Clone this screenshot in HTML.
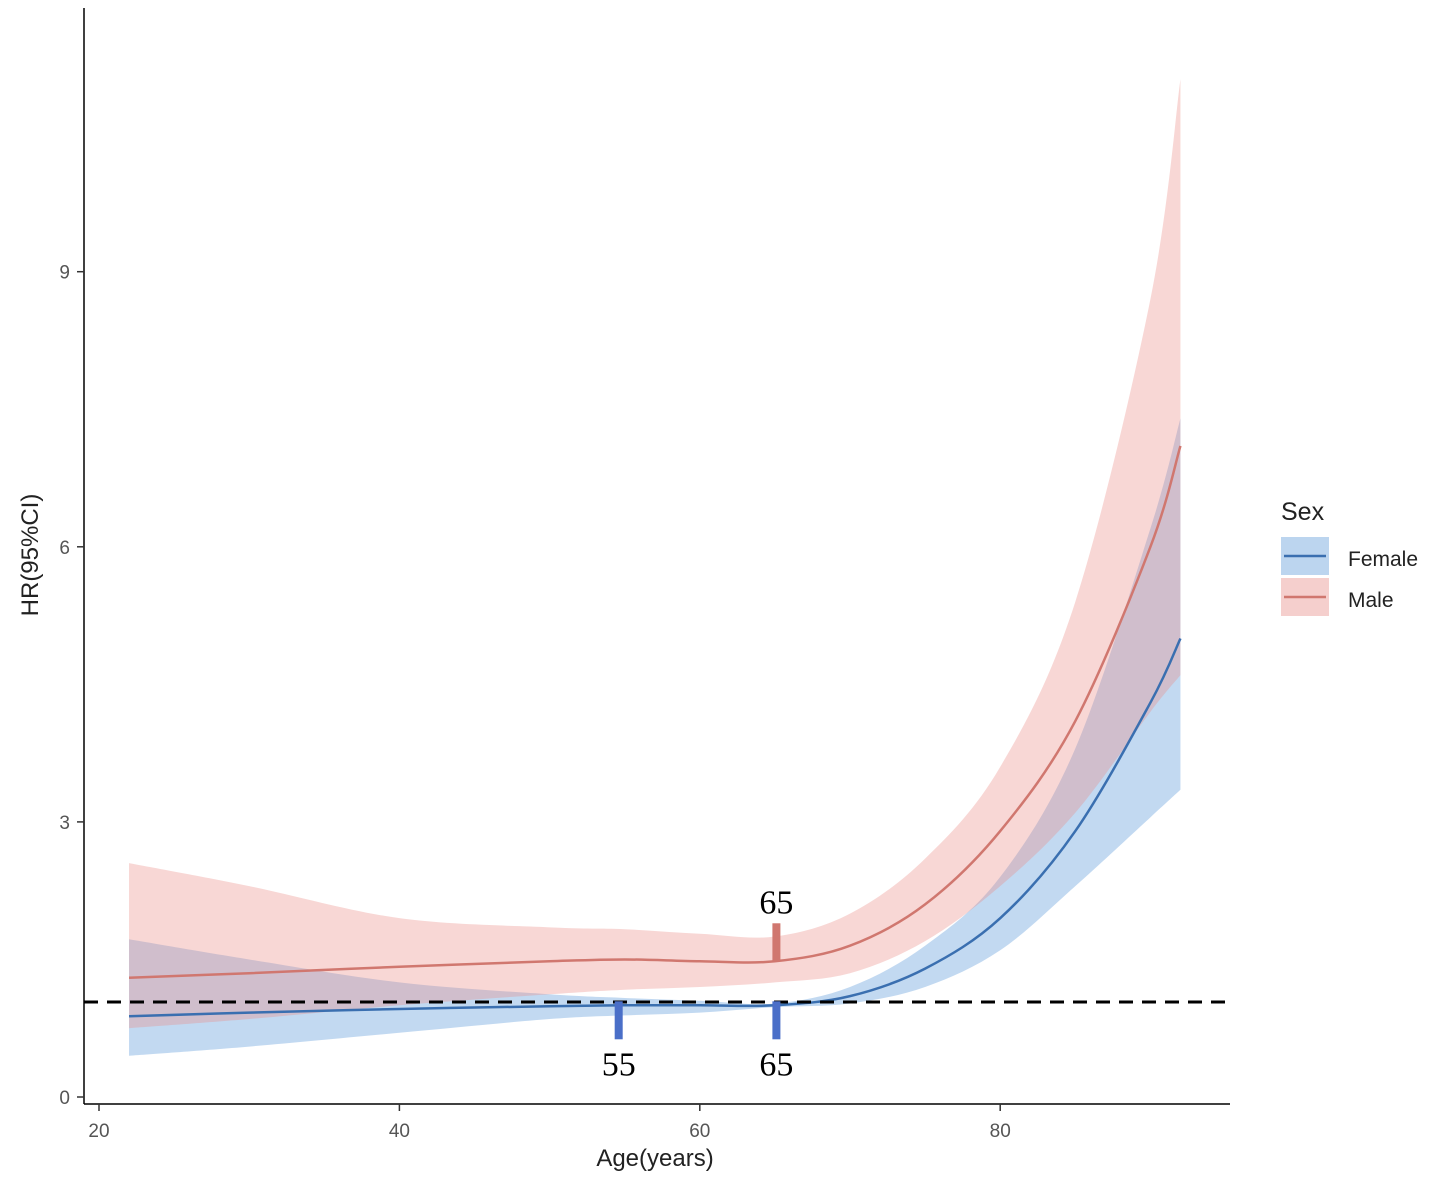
<!DOCTYPE html>
<html><head><meta charset="utf-8"><style>
body{margin:0;background:#fff}
svg{display:block;font-family:"Liberation Sans",sans-serif}
</style></head><body>
<svg id="chart" width="1446" height="1181" viewBox="0 0 1446 1181">
<g id="bands"></g><g id="lines"></g>
<line x1="84" x2="1230" y1="1002" y2="1002" stroke="#000" stroke-width="3" stroke-dasharray="14,9"/>
<g id="annot"></g>
<line x1="84" y1="8" x2="84" y2="1104" stroke="#000" stroke-width="1.5"/>
<line x1="84" y1="1104" x2="1230" y2="1104" stroke="#000" stroke-width="1.5"/>
<g id="axes"></g>
<text x="655" y="1166" font-size="24" text-anchor="middle" fill="#222">Age(years)</text>
<text transform="translate(38,555) rotate(-90)" font-size="24" text-anchor="middle" fill="#222">HR(95%CI)</text>
<g>
<text x="1281" y="520" font-size="25" fill="#222">Sex</text>
<rect x="1281" y="537" width="48" height="38" fill="#bcd5ef"/>
<line x1="1284" x2="1326" y1="556" y2="556" stroke="#3a6fb0" stroke-width="2.5"/>
<text x="1348" y="566" font-size="21" fill="#222">Female</text>
<rect x="1281" y="578" width="48" height="38" fill="#f5cfcd"/>
<line x1="1284" x2="1326" y1="597" y2="597" stroke="#d0776f" stroke-width="2.5"/>
<text x="1348" y="607" font-size="21" fill="#222">Male</text>
</g>
</svg>
<script>
const ages=[22,30,40,50,55,60,65,70,75,80,85,90,92];
const maleHR=[1.3,1.35,1.42,1.48,1.5,1.48,1.48,1.65,2.1,2.9,4.1,6.0,7.1];
const maleUp=[2.55,2.3,1.95,1.85,1.83,1.78,1.75,2.0,2.6,3.6,5.4,8.7,11.1];
const maleLo=[0.75,0.85,1.0,1.12,1.17,1.2,1.25,1.35,1.7,2.3,3.1,4.2,4.6];
const femHR=[0.88,0.92,0.96,0.99,1.0,1.0,1.0,1.1,1.4,1.95,2.9,4.3,5.0];
const femUp=[1.72,1.5,1.25,1.12,1.08,1.05,1.02,1.2,1.65,2.4,3.8,6.2,7.4];
const femLo=[0.45,0.55,0.7,0.85,0.89,0.92,0.98,1.02,1.2,1.6,2.3,3.05,3.35];
const xTicks=[20,40,60,80];
const yTicks=[0,3,6,9];
const marks=[{age:54.6,sex:'female',lab:'55'},{age:65.1,sex:'female',lab:'65'},{age:65.1,sex:'male',lab:'65'}];
const X=a=>99+(a-20)*15.02;
const Y=v=>1097-v*91.7;
const NS='http://www.w3.org/2000/svg';
function mk(t,p,at){const e=document.createElementNS(NS,t);for(const k in at)e.setAttribute(k,at[k]);document.getElementById(p).appendChild(e);return e;}
function pts(xs,ys){return xs.map((a,i)=>[X(a),Y(ys[i])]);}
function spline(P,start){
 let d=(start?'M':'L')+P[0][0]+','+P[0][1];
 for(let i=0;i<P.length-1;i++){
  const p0=P[Math.max(0,i-1)],p1=P[i],p2=P[i+1],p3=P[Math.min(P.length-1,i+2)];
  const c1=[p1[0]+(p2[0]-p0[0])/6,p1[1]+(p2[1]-p0[1])/6];
  const c2=[p2[0]-(p3[0]-p1[0])/6,p2[1]-(p3[1]-p1[1])/6];
  d+='C'+c1[0]+','+c1[1]+' '+c2[0]+','+c2[1]+' '+p2[0]+','+p2[1];
 }
 return d;
}
function band(lo,up,fill,name){
 let d=spline(pts(ages,up),true)+spline(pts(ages,lo).reverse(),false)+'Z';
 const e=mk('path','bands',{d:d,fill:fill});
 
 
}
band(femLo,femUp,'rgba(120,170,225,0.45)','female-ci-band');
band(maleLo,maleUp,'rgba(235,140,135,0.35)','male-ci-band');
let l=mk('path','lines',{d:spline(pts(ages,femHR),true),fill:'none',stroke:'#3a6fb0','stroke-width':2.5});


l=mk('path','lines',{d:spline(pts(ages,maleHR),true),fill:'none',stroke:'#d0776f','stroke-width':2.5});


xTicks.forEach(t=>{
 mk('line','axes',{x1:X(t),x2:X(t),y1:1104,y2:1111,stroke:'#333','stroke-width':1.5});
 const e=mk('text','axes',{x:X(t),y:1137,'font-size':19,'text-anchor':'middle',fill:'#555'});e.textContent=t;
 
 
});
yTicks.forEach(t=>{
 mk('line','axes',{x1:77,x2:84,y1:Y(t),y2:Y(t),stroke:'#333','stroke-width':1.5});
 const e=mk('text','axes',{x:70,y:Y(t)+7,'font-size':19,'text-anchor':'end',fill:'#555'});e.textContent=t;
 
 
});
marks.forEach(m=>{
 const x=X(m.age);
 if(m.sex==='female'){
  const y0=Y(1)-4;
  let r=mk('rect','annot',{x:x-4,y:y0,width:8,height:38,fill:'#4a6fc8'});
  
  
  const t=mk('text','annot',{x:x,y:y0+74,'font-size':34,'text-anchor':'middle','font-family':'Liberation Serif, serif'});t.textContent=m.lab;
  
  
 }else{
  const y0=Y(1.48);
  let r=mk('rect','annot',{x:x-4,y:y0-38,width:8,height:38,fill:'#d0776f'});
  
  
  const t=mk('text','annot',{x:x,y:y0-48,'font-size':34,'text-anchor':'middle','font-family':'Liberation Serif, serif'});t.textContent=m.lab;
  
  
 }
});
</script>
</body></html>
